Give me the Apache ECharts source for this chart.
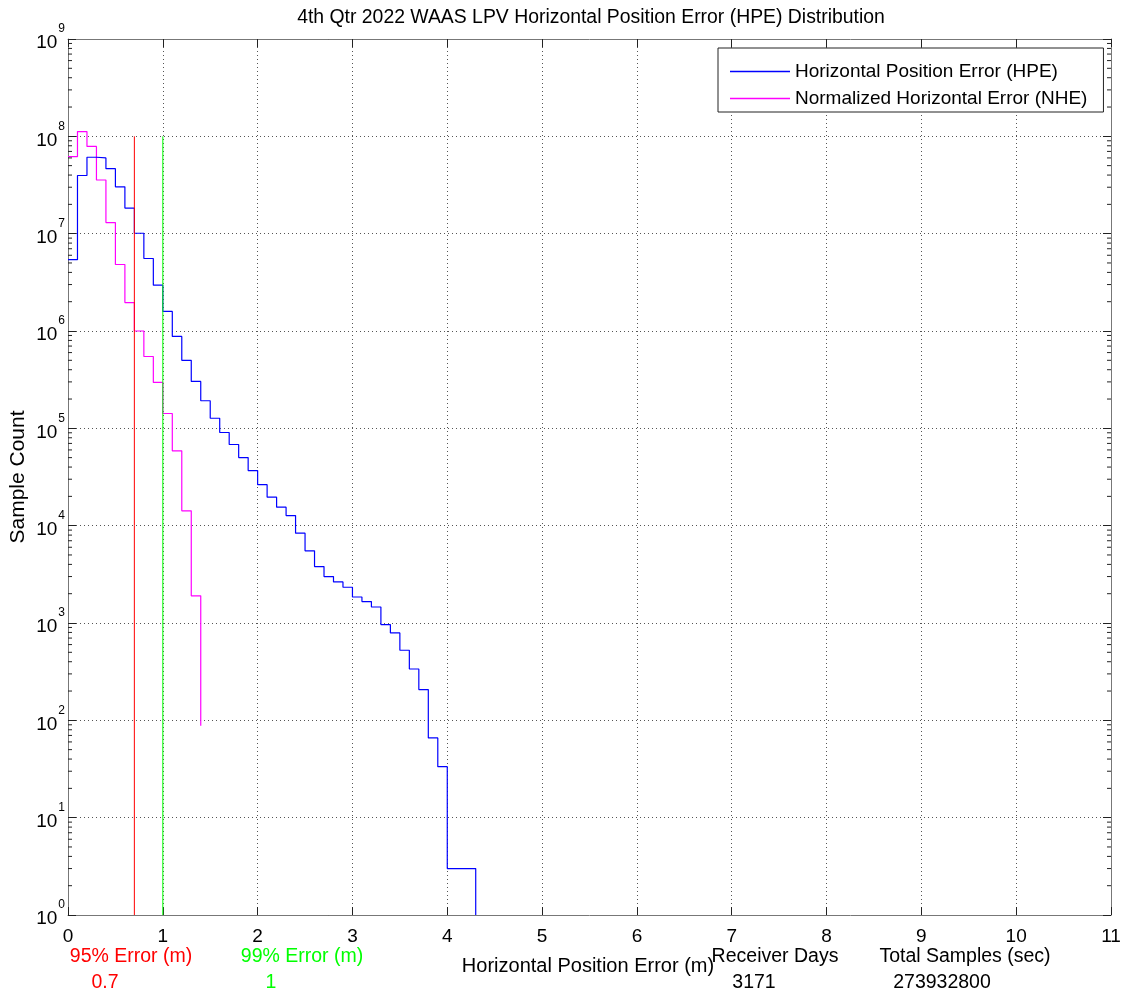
<!DOCTYPE html>
<html>
<head>
<meta charset="utf-8">
<script src="https://cdn.jsdelivr.net/npm/echarts@6/dist/echarts.min.js"></script>
<style>html,body{margin:0;padding:0;background:#fff;}#chart{width:1131px;height:997px;}</style>
</head>
<body>
<div id="chart"></div>
<script>
// ---- data ----
var titleText = '4th Qtr 2022 WAAS LPV Horizontal Position Error (HPE) Distribution';
var seriesNames = ['Horizontal Position Error (HPE)', 'Normalized Horizontal Error (NHE)'];
// bin start positions (m) and sample counts, drawn as stairs
var hpeX = [0, 0.1, 0.2, 0.3, 0.4, 0.5, 0.6, 0.7, 0.8, 0.9,
            1.0, 1.1, 1.2, 1.3, 1.4, 1.5, 1.6, 1.7, 1.8, 1.9,
            2.0, 2.1, 2.2, 2.3, 2.4, 2.5, 2.6, 2.7, 2.8, 2.9,
            3.0, 3.1, 3.2, 3.3, 3.4, 3.5, 3.6, 3.7, 3.8, 3.9,
            4.0, 4.1, 4.2, 4.3];
var hpeCounts = [5.4e6, 3.96e7, 6.1e7, 6.0e7, 4.65e7, 3.03e7, 1.83e7, 1.01e7, 5.56e6, 2.96e6,
                 1.59e6, 8.79e5, 5.0e5, 3.03e5, 1.92e5, 1.27e5, 9.06e4, 6.82e4, 5.01e4, 3.68e4,
                 2.64e4, 1.96e4, 1.55e4, 1.27e4, 8370, 5510, 3800, 3000, 2640, 2330,
                 1850, 1660, 1460, 964, 791, 525, 337, 207, 65.9, 33.4,
                 3, 3, 3, 1];
var nheX = [0, 0.1, 0.2, 0.3, 0.4, 0.5, 0.6, 0.7, 0.8, 0.9, 1.0, 1.1, 1.2, 1.3, 1.4];
var nheCounts = [6.2e7, 1.12e8, 7.87e7, 3.56e7, 1.30e7, 4.82e6, 1.96e6, 1.0e6, 5.47e5, 2.96e5,
                 1.42e5, 5.87e4, 1.42e4, 1900, 88];
var err95 = 0.7;
var err99 = 1;
var errLineTop = 1e8;
var errLineBottom = 1;
var receiverDays = '3171';
var totalSamples = '273932800';
var xTicks = [0, 1, 2, 3, 4, 5, 6, 7, 8, 9, 10, 11];

// ---- chart ----
var FONT = 'Liberation Sans, Arial, Helvetica, sans-serif';
var chart = echarts.init(document.getElementById('chart'), null, {renderer: 'canvas'});

function zip(xs, ys) { return xs.map(function (x, i) { return [x, ys[i]]; }); }

var minorTickVals = [];
for (var k = 0; k < 9; k++) {
  for (var m = 2; m <= 9; m++) minorTickVals.push([0, m * Math.pow(10, k)]);
}

var gridLine = {show: true, lineStyle: {color: '#555', type: [1, 3], width: 1}};

var option = {
  animation: false,
  backgroundColor: '#fff',
  grid: {left: 68, right: 20, top: 39, bottom: 82, containLabel: false, outerBoundsMode: 'none'},
  legend: {
    data: seriesNames,
    orient: 'vertical',
    left: 718, top: 48,
    padding: [10, 16, 0, 12],
    itemGap: 0,
    icon: 'rect',
    itemWidth: 60, itemHeight: 1.5,
    backgroundColor: '#fff',
    borderColor: '#222', borderWidth: 1,
    textStyle: {fontSize: 19, fontFamily: FONT, color: '#000', lineHeight: 27},
    z: 10
  },
  xAxis: [{
    type: 'value', min: 0, max: 11, interval: 1, position: 'bottom',
    axisLine: {show: true, onZero: false, lineStyle: {color: '#777', width: 1}},
    axisTick: {show: true, inside: true, length: 8, lineStyle: {color: '#222'}},
    axisLabel: {fontSize: 19, fontFamily: FONT, color: '#000', margin: 12,
      formatter: function (v) { return xTicks.indexOf(v) >= 0 ? String(v) : ''; }},
    splitLine: gridLine
  }, {
    type: 'value', min: 0, max: 11, interval: 1, position: 'top',
    axisLine: {show: true, onZero: false, lineStyle: {color: '#777', width: 1}},
    axisTick: {show: true, inside: true, length: 8, lineStyle: {color: '#222'}},
    axisLabel: {show: false}, splitLine: {show: false}
  }],
  yAxis: [{
    type: 'log', logBase: 10, min: 1, max: 1e9, position: 'left',
    name: 'Sample Count', nameLocation: 'middle', nameGap: 39, nameMoveOverlap: false,
    nameTextStyle: {fontSize: 21, fontFamily: FONT, color: '#000'},
    axisLine: {show: true, onZero: false, lineStyle: {color: '#777', width: 1}},
    axisTick: {show: true, inside: true, length: 8, lineStyle: {color: '#222'}},
    minorTick: {show: false},
    axisLabel: {
      margin: 3, fontFamily: FONT, color: '#000',
      formatter: function (v) {
        var e = Math.round(Math.log(v) / Math.LN10);
        return '{b|10}{e|' + e + '}';
      },
      rich: {
        b: {fontSize: 19, fontFamily: FONT, color: '#000', padding: [8, 0, 0, 0]},
        e: {fontSize: 12, fontFamily: FONT, color: '#000', padding: [0, 0, 20, 1]}
      }
    },
    splitLine: gridLine
  }, {
    type: 'log', logBase: 10, min: 1, max: 1e9, position: 'right',
    axisLine: {show: true, onZero: false, lineStyle: {color: '#777', width: 1}},
    axisTick: {show: true, inside: true, length: 8, lineStyle: {color: '#222'}},
    axisLabel: {show: false}, splitLine: {show: false}
  }],
  series: [{
    name: seriesNames[1], type: 'line', step: 'end', data: zip(nheX, nheCounts),
    symbol: 'none', lineStyle: {color: '#ff00ff', width: 1.2}, itemStyle: {color: '#ff00ff'},
    z: 3, clip: true
  }, {
    name: seriesNames[0], type: 'line', step: 'end', data: zip(hpeX, hpeCounts),
    symbol: 'none', lineStyle: {color: '#0000ff', width: 1.2}, itemStyle: {color: '#0000ff'},
    z: 4, clip: true
  }, {
    name: '95%', type: 'line', data: [[err95, errLineTop], [err95, errLineBottom]],
    symbol: 'none', lineStyle: {color: '#ff0000', width: 1}, z: 5
  }, {
    name: '99%', type: 'line', data: [[err99, errLineTop], [err99, errLineBottom]],
    symbol: 'none', lineStyle: {color: '#00ff00', width: 1}, z: 5
  }, {
    name: 'minorTicks', type: 'custom', data: minorTickVals, silent: true, z: 6, clip: false,
    renderItem: function (params, api) {
      var cs = params.coordSys;
      var y = api.coord([0, api.value(1)])[1];
      var st = {stroke: '#222', lineWidth: 1};
      return {type: 'group', children: [
        {type: 'line', shape: {x1: cs.x, y1: y, x2: cs.x + 4, y2: y}, style: st},
        {type: 'line', shape: {x1: cs.x + cs.width - 4, y1: y, x2: cs.x + cs.width, y2: y}, style: st}
      ]};
    }
  }],
  graphic: [
    {type: 'text', x: 591, y: 18, style: {text: titleText, font: '19.4px ' + FONT, fill: '#000', textAlign: 'center', textVerticalAlign: 'middle'}},
    {type: 'text', x: 131, y: 957, style: {text: '95% Error (m)', font: '19.5px ' + FONT, fill: '#ff0000', textAlign: 'center', textVerticalAlign: 'middle'}},
    {type: 'text', x: 105, y: 983, style: {text: String(err95), font: '19.5px ' + FONT, fill: '#ff0000', textAlign: 'center', textVerticalAlign: 'middle'}},
    {type: 'text', x: 302, y: 957, style: {text: '99% Error (m)', font: '19.5px ' + FONT, fill: '#00ff00', textAlign: 'center', textVerticalAlign: 'middle'}},
    {type: 'text', x: 271, y: 983, style: {text: String(err99), font: '19.5px ' + FONT, fill: '#00ff00', textAlign: 'center', textVerticalAlign: 'middle'}},
    {type: 'text', x: 588, y: 966, style: {text: 'Horizontal Position Error (m)', font: '20px ' + FONT, fill: '#000', textAlign: 'center', textVerticalAlign: 'middle'}},
    {type: 'text', x: 775, y: 957, style: {text: 'Receiver Days', font: '19.5px ' + FONT, fill: '#000', textAlign: 'center', textVerticalAlign: 'middle'}},
    {type: 'text', x: 754, y: 983, style: {text: receiverDays, font: '19.5px ' + FONT, fill: '#000', textAlign: 'center', textVerticalAlign: 'middle'}},
    {type: 'text', x: 965, y: 957, style: {text: 'Total Samples (sec)', font: '19.5px ' + FONT, fill: '#000', textAlign: 'center', textVerticalAlign: 'middle'}},
    {type: 'text', x: 942, y: 983, style: {text: totalSamples, font: '19.5px ' + FONT, fill: '#000', textAlign: 'center', textVerticalAlign: 'middle'}}
  ]
};
chart.setOption(option);
</script>
</body>
</html>
